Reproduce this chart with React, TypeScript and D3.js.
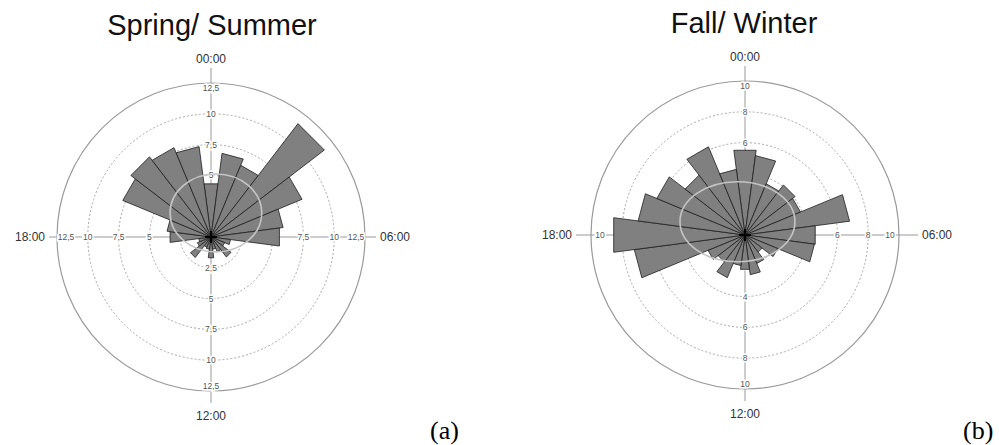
import React, { useRef, useEffect } from "react";
import * as d3 from "d3";

// hourly counts, index 0 = 00:00 ... 23 = 23:00
const springSummer = [4.35, 6.85, 6.3, 11.6, 8.0, 5.9, 5.6, 1.6, 1.2, 2.05, 1.3, 1.0,
  1.7, 1.0, 0.9, 2.1, 1.2, 1.0, 3.35, 3.6, 7.75, 8.2, 7.85, 7.4];
const fallWinter = [5.55, 5.2, 3.6, 4.1, 3.9, 6.85, 4.6, 4.55, 2.3, 1.4, 2.0, 2.6,
  2.25, 2.0, 3.0, 2.2, 2.6, 7.25, 8.6, 7.0, 6.2, 4.9, 6.2, 4.3];

const hourNames = ["00:00", "06:00", "12:00", "18:00"];
const springTicks = [2.5, 5, 7.5, 10, 12.5];
const springTickText = ["2,5", "5", "7,5", "10", "12,5"];
const fallTicks = [2, 4, 6, 8, 10];
const fallTickText = ["2", "4", "6", "8", "10"];
// grey ellipse: x offset, y offset, x radius, y radius (data units)
const springEllipse = [0.4, -1.95, 3.72, 3.16];
const fallEllipse = [-0.49, -0.86, 3.73, 2.6];

const R = 154;

const drawRose = (svg, cx, cy, values, ticks, tickText, ellipse, gapL, gapR) => {
  const g = svg.append("g").attr("transform", `translate(${cx},${cy})`);
  const r = d3.scaleLinear().domain([0, ticks[ticks.length - 1]]).range([0, R]);

  // grid circles
  g.selectAll(".grid")
    .data(ticks.slice(0, -1))
    .enter()
    .append("circle")
    .attr("r", (d) => r(d))
    .attr("fill", "none")
    .attr("stroke", "#a8a8a8")
    .attr("stroke-width", 1)
    .attr("stroke-dasharray", "2,2");
  g.append("circle")
    .attr("r", R)
    .attr("fill", "none")
    .attr("stroke", "#9a9a9a")
    .attr("stroke-width", 1.2);

  // axes
  g.append("line").attr("x1", 0).attr("x2", 0).attr("y1", -R - 15).attr("y2", R + 12)
    .attr("stroke", "#999").attr("stroke-width", 1);
  g.append("line").attr("x1", -R - gapL + 4).attr("x2", R + gapR - 4).attr("y1", 0).attr("y2", 0)
    .attr("stroke", "#999").attr("stroke-width", 1);

  // hour labels
  const hourStyle = (t) => t
    .style("font-family", "'Liberation Sans', Arial, sans-serif")
    .style("font-size", "12px")
    .attr("fill", "#333");
  g.append("text").attr("x", 0).attr("y", -R - 20).attr("text-anchor", "middle").text(hourNames[0]).call(hourStyle);
  g.append("text").attr("x", R + gapR).attr("y", 4).attr("text-anchor", "start").text(hourNames[1]).call(hourStyle);
  g.append("text").attr("x", 0).attr("y", R + 29).attr("text-anchor", "middle").text(hourNames[2]).call(hourStyle);
  g.append("text").attr("x", -R - gapL).attr("y", 4).attr("text-anchor", "end").text(hourNames[3]).call(hourStyle);

  // tick labels on the four axes
  const dirs = [[0, -1], [1, 0], [0, 1], [-1, 0]];
  ticks.forEach((t, i) => {
    const last = i === ticks.length - 1;
    dirs.forEach(([dx, dy]) => {
      const rr = r(t) - (last ? (dx !== 0 ? 9 : 5) : 0);
      g.append("text")
        .attr("x", dx * rr)
        .attr("y", dy * rr + 3)
        .attr("text-anchor", "middle")
        .style("font-family", "'Liberation Sans', Arial, sans-serif")
        .style("font-size", "8.5px")
        .attr("fill", "#555")
        .attr("stroke", "#fff")
        .attr("stroke-width", 3)
        .attr("paint-order", "stroke")
        .text(tickText[i]);
    });
  });

  // bars
  const half = Math.PI / values.length;
  g.selectAll(".bar")
    .data(values)
    .enter()
    .append("path")
    .attr("class", "bar")
    .attr("d", (d, i) => {
      const a = (i * 2 * Math.PI) / values.length;
      const p1 = d3.pointRadial(a - half, r(d));
      const p2 = d3.pointRadial(a + half, r(d));
      return `M0,0L${p1[0]},${p1[1]}L${p2[0]},${p2[1]}Z`;
    })
    .attr("fill", "#808080")
    .attr("stroke", "#1e1e1e")
    .attr("stroke-width", 0.8)
    .attr("stroke-linejoin", "miter");

  // grey ellipse
  g.append("ellipse")
    .attr("cx", r(ellipse[0]))
    .attr("cy", r(ellipse[1]))
    .attr("rx", r(ellipse[2]))
    .attr("ry", r(ellipse[3]))
    .attr("fill", "none")
    .attr("stroke", "#c4c4c4")
    .attr("stroke-width", 1.6);

  // centre mark
  g.append("path").attr("d", "M-6,0H6M0,-6V6").attr("stroke", "#000").attr("stroke-width", 2);
};

const App = () => {
  const chartRef = useRef(null);

  useEffect(() => {
    const svg = d3.select(chartRef.current);
    svg.selectAll("*").remove();
    svg.append("rect").attr("width", 999).attr("height", 445).attr("fill", "#fff");

    const titleStyle = (t) => t
      .style("font-family", "'Liberation Sans', Arial, sans-serif")
      .style("font-size", "29px")
      .attr("fill", "#111")
      .attr("text-anchor", "middle");
    svg.append("text").attr("x", 212).attr("y", 35).text("Spring/ Summer").call(titleStyle);
    svg.append("text").attr("x", 744).attr("y", 33).text("Fall/ Winter").call(titleStyle);

    drawRose(svg, 211, 237, springSummer, springTicks, springTickText, springEllipse, 12, 15);
    drawRose(svg, 745, 235, fallWinter, fallTicks, fallTickText, fallEllipse, 19, 23);

    const capStyle = (t) => t
      .style("font-family", "'Liberation Serif', 'Times New Roman', serif")
      .style("font-size", "26px")
      .attr("fill", "#000");
    svg.append("text").attr("x", 430).attr("y", 439).text("(a)").call(capStyle);
    svg.append("text").attr("x", 963).attr("y", 439).text("(b)").call(capStyle);
  }, []);

  return (
    <svg
      ref={chartRef}
      width={999}
      height={445}
      style={{ position: "absolute", left: 0, top: 0 }}
    />
  );
};

export default App;
